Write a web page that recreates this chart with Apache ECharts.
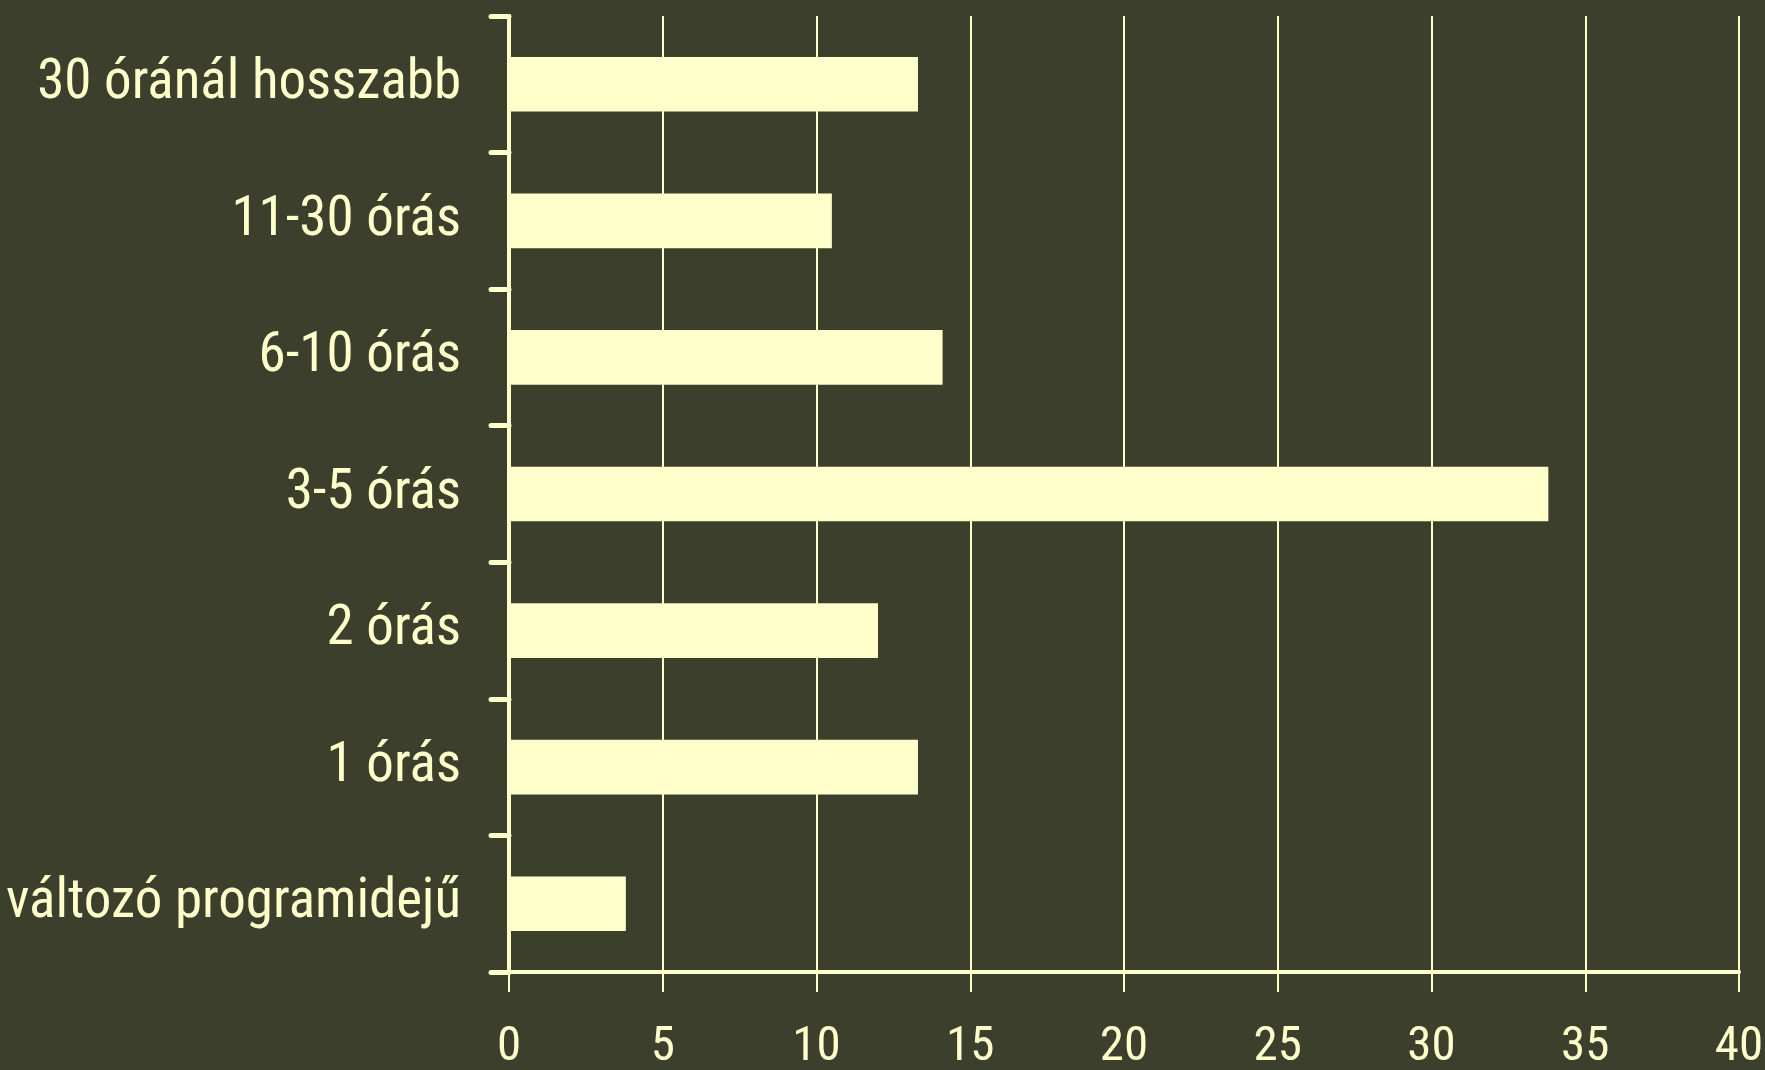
<!DOCTYPE html>
<html>
<head>
<meta charset="utf-8">
<script src="https://cdn.jsdelivr.net/npm/echarts@6/dist/echarts.min.js"></script>
<style>
  html, body { margin: 0; padding: 0; background: #3d3f2d; }
  #chart { width: 1765px; height: 1070px; }
</style>
</head>
<body>
<div id="chart"></div>
<script>
// categories bottom -> top
var categories = ['változó programidejű', '1 órás', '2 órás', '3-5 órás', '6-10 órás', '11-30 órás', '30 óránál hosszabb'];
var values = [3.8, 13.3, 12.0, 33.8, 14.1, 10.5, 13.3];
var xTicks = [0, 5, 10, 15, 20, 25, 30, 35, 40];

var light = '#ffffcc';
var font = "'Roboto Condensed', 'Liberation Sans Narrow', 'DejaVu Sans Condensed', sans-serif";

var chart = echarts.init(document.getElementById('chart'));
chart.setOption({
  backgroundColor: '#3d3f2d',
  animation: false,
  grid: {
    left: 509,
    right: 26,
    top: 16,
    bottom: 98,
    outerBoundsMode: 'none',
    containLabel: false
  },
  xAxis: {
    type: 'value',
    min: xTicks[0],
    max: xTicks[xTicks.length - 1],
    interval: 5,
    axisLine: {
      show: true,
      lineStyle: { color: light, width: 4, cap: 'round' }
    },
    axisTick: {
      show: true,
      length: 20,
      lineStyle: { color: light, width: 2 }
    },
    splitLine: {
      show: true,
      lineStyle: { color: light, width: 2 }
    },
    axisLabel: {
      color: light,
      fontFamily: font,
      fontSize: 49,
      margin: 51
    }
  },
  yAxis: {
    type: 'category',
    data: categories,
    axisLine: {
      show: true,
      lineStyle: { color: light, width: 4, cap: 'round' }
    },
    axisTick: {
      show: true,
      length: 18,
      lineStyle: { color: light, width: 5, cap: 'round' }
    },
    splitLine: { show: false },
    axisLabel: {
      color: light,
      fontFamily: font,
      fontSize: 55,
      margin: 48
    }
  },
  series: [{
    type: 'bar',
    data: values,
    barWidth: '40%',
    itemStyle: { color: light }
  }]
});
</script>
</body>
</html>
